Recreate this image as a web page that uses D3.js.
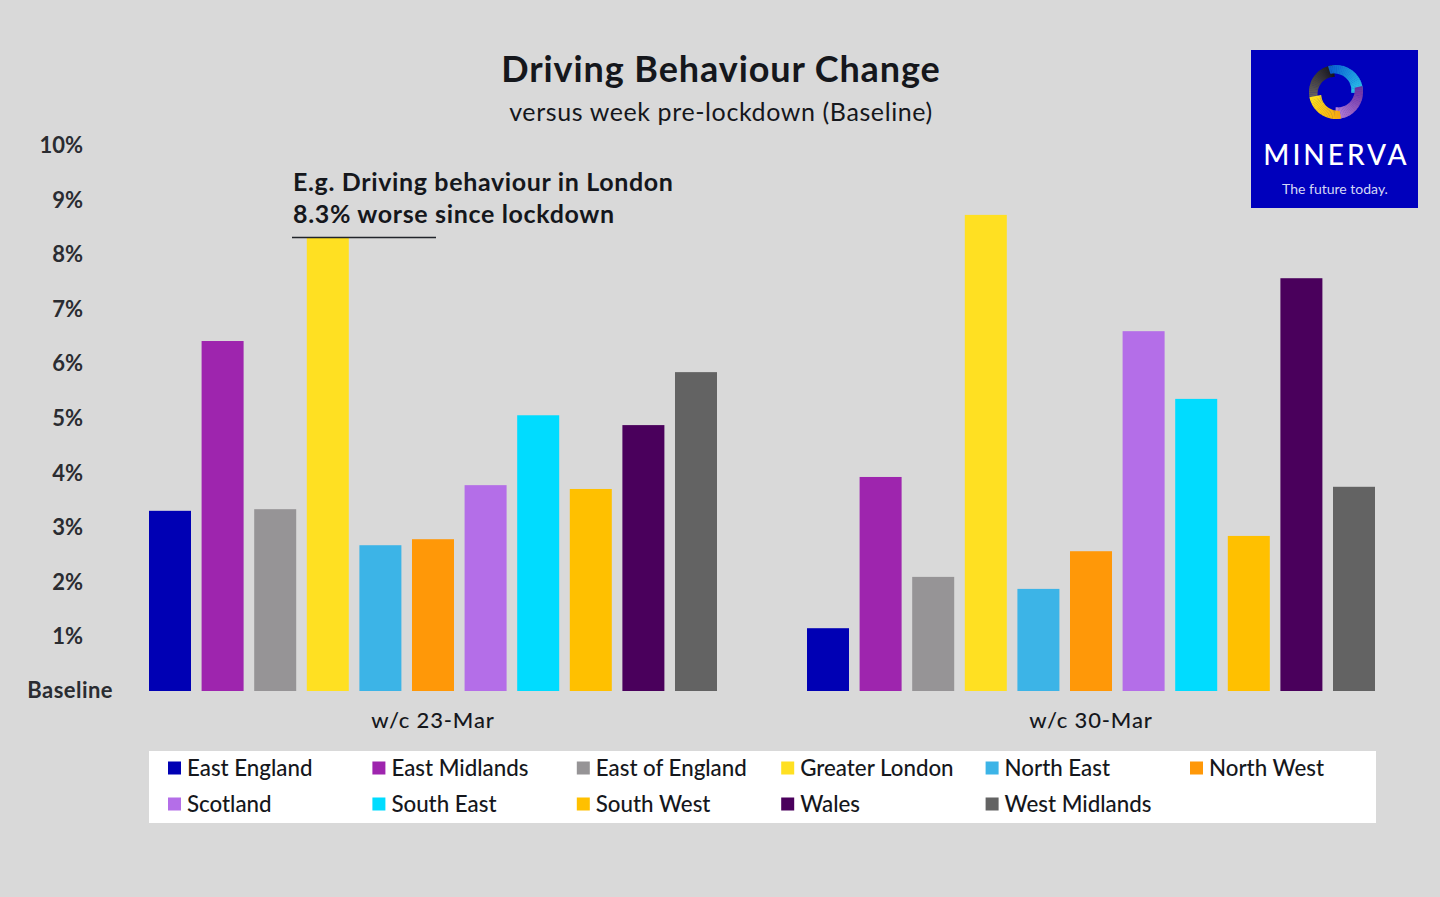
<!doctype html>
<html lang="en">
<head>
<meta charset="utf-8">
<script src="https://cdnjs.cloudflare.com/ajax/libs/d3/7.8.5/d3.min.js"></script>
<style type="text/css">
html, body { margin: 0; padding: 0; background: #d9d9d9; }
svg { display: block; }
text { font-family: Lato, "Open Sans", sans-serif; fill: #15171c; }
</style>
</head>
<body>
<svg width="1440" height="897"></svg>
<script>
var regions = ['East England', 'East Midlands', 'East of England', 'Greater London', 'North East', 'North West',
    'Scotland', 'South East', 'South West', 'Wales', 'West Midlands'];
var regionColors = ['#0000b4', '#9e25ae', '#969496', '#ffe022', '#3cb4e7', '#ff9808',
    '#b46ee8', '#00dcff', '#ffc000', '#4a005c', '#636363'];
var weeks = ['w/c 23-Mar', 'w/c 30-Mar'];
var week23 = [3.3, 6.41, 3.33, 8.3, 2.67, 2.78, 3.77, 5.05, 3.7, 4.87, 5.84];
var week30 = [1.15, 3.92, 2.09, 8.72, 1.87, 2.56, 6.59, 5.35, 2.84, 7.56, 3.74];
var yTicks = [0, 1, 2, 3, 4, 5, 6, 7, 8, 9, 10];

var svg = d3.select('svg');

// scales
var y = d3.scaleLinear().domain([0, 10]).range([691, 145]);
var x0 = d3.scaleBand().domain(weeks).range([149, 1375]).paddingInner(0.1368);
var x1 = d3.scaleBand().domain(regions).range([0, x0.bandwidth()]).paddingInner(0.2015);
var color = d3.scaleOrdinal().domain(regions).range(regionColors);

// title
svg.append('text').attr('x', 721).attr('y', 81.5).attr('text-anchor', 'middle')
    .style('font-size', '36px').style('font-weight', 700).style('letter-spacing', '0.9px')
    .text('Driving Behaviour Change');
svg.append('text').attr('x', 721).attr('y', 121).attr('text-anchor', 'middle')
    .style('font-size', '25px').style('letter-spacing', '0.6px')
    .text('versus week pre-lockdown (Baseline)');

// y axis, labels only
var yAxis = svg.append('g').attr('transform', 'translate(83,0.5)')
    .call(d3.axisLeft(y).tickValues(yTicks).tickSize(0).tickPadding(0)
        .tickFormat(function(d) { return d === 0 ? 'Baseline' : d + '%'; }));
yAxis.select('.domain').remove();
yAxis.selectAll('text')
    .style('font-family', 'Lato, "Open Sans", sans-serif')
    .style('font-size', '22px').style('font-weight', 700).style('fill', '#2a2c31');
yAxis.selectAll('.tick').filter(function(d) { return d === 0; })
    .select('text').attr('x', 30).attr('dy', '0.26em').style('letter-spacing', '0.45px');

// bars
[week23, week30].forEach(function(values, i) {
    var g = svg.append('g').attr('transform', 'translate(' + x0(weeks[i]) + ',0)');
    g.selectAll('rect').data(values).enter().append('rect')
        .attr('x', function(d, j) { return x1(regions[j]); })
        .attr('y', function(d) { return y(d); })
        .attr('width', x1.bandwidth())
        .attr('height', function(d) { return y(0) - y(d); })
        .attr('fill', function(d, j) { return color(regions[j]); });
});

// x axis, labels only
var xAxis = svg.append('g').attr('transform', 'translate(0,691)')
    .call(d3.axisBottom(x0).tickSize(0).tickPadding(21));
xAxis.select('.domain').remove();
xAxis.selectAll('text')
    .style('font-family', 'Lato, "Open Sans", sans-serif')
    .style('font-size', '22px').style('font-weight', 500).style('letter-spacing', '0.85px');

// callout
var callout = svg.append('text').style('font-size', '25px').style('font-weight', 700).style('letter-spacing', '0.65px');
callout.append('tspan').attr('x', 293).attr('y', 191).text('E.g. Driving behaviour in London');
callout.append('tspan').attr('x', 293).attr('y', 223).text('8.3% worse since lockdown');
svg.append('line').attr('x1', 292).attr('x2', 436).attr('y1', 237.5).attr('y2', 237.5)
    .attr('stroke', '#22252b').attr('stroke-width', 1.5);

// legend
svg.append('rect').attr('x', 149).attr('y', 751).attr('width', 1227).attr('height', 72).attr('fill', '#fff');
var legendItem = svg.selectAll('.legend-item').data(regions).enter().append('g')
    .attr('class', 'legend-item')
    .attr('transform', function(d, i) {
        return 'translate(' + (168 + (i % 6) * 204.4) + ',' + (768 + Math.floor(i / 6) * 36) + ')';
    });
legendItem.append('rect').attr('y', -6.5).attr('width', 13).attr('height', 13)
    .attr('fill', function(d) { return color(d); });
legendItem.append('text').attr('x', 19).attr('y', 8)
    .style('font-size', '22.3px').style('font-weight', 500)
    .text(function(d) { return d; });

// logo
var logo = svg.append('g');
logo.append('rect').attr('x', 1251).attr('y', 50).attr('width', 167).attr('height', 158).attr('fill', '#0000bc');

// swirl: four crescents, each one a run of short arcs growing thicker and shifting colour
var crescents = [
    { start: -1.9, end: -0.1, from: '#6e6a64', to: '#16151a' },
    { start: -0.3, end: 1.6, from: '#0a5fd0', to: '#2cc4ea' },
    { start: 1.35, end: 3.15, from: '#6a2fa0', to: '#b47fd6' },
    { start: 2.95, end: 4.5, from: '#f9a90c', to: '#ffe21c' }
];
var arc = d3.arc();
var ring = logo.append('g').attr('transform', 'translate(1336,92)');
crescents.forEach(function(c) {
    var steps = d3.range(24);
    var angle = d3.scaleLinear().domain([0, 24]).range([c.start, c.end]);
    var inner = d3.scaleLinear().domain([0, 24]).range([19, 15]);
    var mix = d3.interpolateRgb(c.from, c.to);
    ring.append('g').selectAll('path').data(steps).enter().append('path')
        .attr('d', function(s) {
            return arc({ innerRadius: inner(s), outerRadius: 27, startAngle: angle(s), endAngle: angle(s + 1.2) });
        })
        .attr('fill', function(s) { return mix(s / 23); });
});

logo.append('text').attr('x', 1336.5).attr('y', 165).attr('text-anchor', 'middle')
    .style('font-size', '28px').style('font-weight', 500).style('letter-spacing', '3px')
    .style('fill', '#fff').text('MINERVA');
logo.append('text').attr('x', 1335).attr('y', 194).attr('text-anchor', 'middle')
    .style('font-size', '14px').style('font-weight', 400)
    .style('fill', '#d5d8f5').text('The future today.');
</script>
</body>
</html>
